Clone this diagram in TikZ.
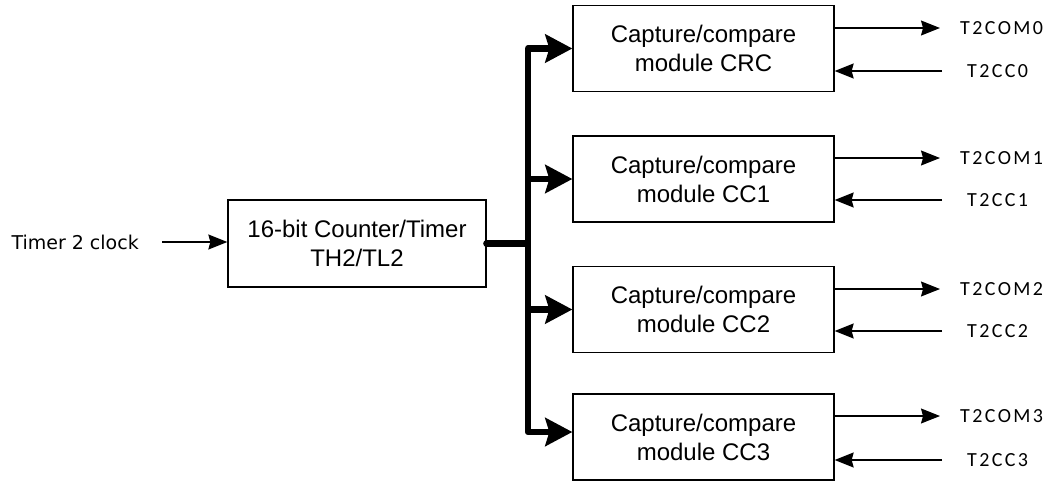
\documentclass[tikz,border=0pt]{standalone}
\usepackage{fontspec}
\setmainfont{Liberation Sans}
\newfontfamily\pinfont[LetterSpace=12]{Carlito}
\newfontfamily\clkfont{DejaVu Sans}
\usetikzlibrary{arrows.meta}

\begin{document}
\begin{tikzpicture}[x=1pt,y=-1pt,every node/.style={inner sep=0pt},
            block/.style={draw=black,line width=1.3pt,minimum width=261pt,minimum height=86pt,align=center,font=\fontsize{24}{29}\selectfont},
            pinlabel/.style={anchor=west,font=\pinfont\fontsize{20}{22}\selectfont},
            sig/.style={line width=1.2pt,-{Stealth[length=19pt,width=15pt,inset=2pt]}},
            busline/.style={line width=6.5pt,line join=round,-{Stealth[length=27pt,width=28pt,inset=4pt]}}]
            \useasboundingbox (0,0) rectangle (1054,482);

            \node[anchor=east,font=\clkfont\fontsize{19}{22}\selectfont] (clk) at (139,242) {Timer 2 clock};
            \node[block,minimum width=258pt,minimum height=87pt] (counter) at (357,243.5) {16-bit Counter/Timer\\TH2/TL2};

            \node[block] (crc) at (703.5,48.5) {Capture/compare\\module CRC};
            \node[block] (cc1) at (703.5,179) {Capture/compare\\module CC1};
            \node[block] (cc2) at (703.5,309.5) {Capture/compare\\module CC2};
            \node[block] (cc3) at (703.5,437) {Capture/compare\\module CC3};

            \node[pinlabel] (com0) at (960,28) {T2COM0};
            \node[pinlabel] (in0) at (967,71) {T2CC0};
            \node[pinlabel] (com1) at (960,158) {T2COM1};
            \node[pinlabel] (in1) at (967,200) {T2CC1};
            \node[pinlabel] (com2) at (960,289) {T2COM2};
            \node[pinlabel] (in2) at (967,331) {T2CC2};
            \node[pinlabel] (com3) at (960,416) {T2COM3};
            \node[pinlabel] (in3) at (967,460) {T2CC3};

            \coordinate (bus) at (528,243.5);

            % clock input
            \draw[sig,shorten <=23pt] (clk.east) -- (clk.east -| counter.west);

            % bus to the modules
            \fill (counter.east) circle (3.5pt);
            \draw[line width=6.5pt] (counter.east) -- (bus);
            \draw[busline,{Stealth[length=27pt,width=28pt,inset=4pt]}-{Stealth[length=27pt,width=28pt,inset=4pt]}] (crc.west) -- (crc.west -| bus) -- ([yshift=5pt]cc3.west -| bus) -- ([yshift=5pt]cc3.west);
            \draw[busline] (cc1.west -| bus) -- (cc1.west);
            \draw[busline] (cc2.west -| bus) -- (cc2.west);

            % outputs and inputs
            \draw[sig] (crc.east |- com0.west) -- ([xshift=-20pt]com0.west);
            \draw[sig] ([xshift=-25pt]in0.west) -- (crc.east |- in0.west);
            \draw[sig] (cc1.east |- com1.west) -- ([xshift=-20pt]com1.west);
            \draw[sig] ([xshift=-25pt]in1.west) -- (cc1.east |- in1.west);
            \draw[sig] (cc2.east |- com2.west) -- ([xshift=-20pt]com2.west);
            \draw[sig] ([xshift=-25pt]in2.west) -- (cc2.east |- in2.west);
            \draw[sig] (cc3.east |- com3.west) -- ([xshift=-20pt]com3.west);
            \draw[sig] ([xshift=-25pt]in3.west) -- (cc3.east |- in3.west);
        \end{tikzpicture}
\end{document}
